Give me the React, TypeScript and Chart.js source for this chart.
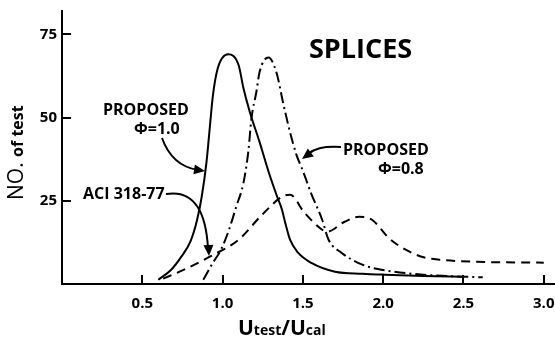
import React, { useEffect, useRef } from "react";
import { Chart, registerables } from "chart.js";

Chart.register(...registerables);

// PROPOSED phi = 1.0 (solid)
const phi10X = [0.6, 0.68, 0.74, 0.8, 0.84, 0.87, 0.9, 0.92, 0.94, 0.97, 1.035, 1.1, 1.13, 1.17, 1.23, 1.29, 1.34, 1.37, 1.39, 1.42, 1.47, 1.55, 1.7, 1.87, 2.01, 2.25, 2.5];
const phi10Y = [1.3, 4.3, 8.0, 12.8, 19.0, 26.2, 36.7, 46.8, 56.7, 64.8, 69, 65.7, 58.8, 51.6, 42.7, 33.2, 26.2, 22.3, 18.4, 13.3, 9.4, 6.4, 3.7, 3.1, 2.8, 2.4, 2.2];

// PROPOSED phi = 0.8 (dash-dot)
const phi08X = [0.88, 0.94, 0.99, 1.04, 1.085, 1.13, 1.16, 1.18, 1.21, 1.23, 1.285, 1.335, 1.38, 1.42, 1.46, 1.5, 1.55, 1.62, 1.66, 1.74, 1.87, 1.99, 2.25, 2.5, 2.62];
const phi08Y = [1.3, 6.4, 10.3, 16.3, 23.2, 30.4, 39.7, 49.8, 57.6, 63.6, 68, 63.6, 53.7, 45.6, 38.8, 34, 27.4, 19.3, 13.3, 9.4, 5.8, 4.3, 2.8, 2.2, 2.0];

// ACI 318-77 (dashed)
const aciX = [0.63, 0.76, 0.92, 1.1, 1.24, 1.37, 1.42, 1.51, 1.62, 1.65, 1.76, 1.85, 1.93, 2.04, 2.14, 2.24, 2.35, 2.56, 3.0];
const aciY = [1.6, 4.3, 8.2, 13.3, 20.5, 26.2, 26.8, 21.4, 16.3, 15.7, 18.7, 20.2, 19.3, 13.6, 10.3, 8.2, 7.3, 6.7, 6.4];

const xTicks = [0.5, 1.0, 1.5, 2.0, 2.5, 3.0];
const yTicks = [25, 50, 75];

const FONT = '"Open Sans", "DejaVu Sans", sans-serif';

const toPts = (xs: number[], ys: number[]) => xs.map((x, i) => ({ x, y: ys[i] }));

function arrowHead(ctx: CanvasRenderingContext2D, fx: number, fy: number, tx: number, ty: number) {
  const ang = Math.atan2(ty - fy, tx - fx);
  const len = 11;
  const w = 5;
  ctx.beginPath();
  ctx.moveTo(tx, ty);
  ctx.lineTo(tx - len * Math.cos(ang) + w * Math.sin(ang), ty - len * Math.sin(ang) - w * Math.cos(ang));
  ctx.lineTo(tx - len * Math.cos(ang) - w * Math.sin(ang), ty - len * Math.sin(ang) + w * Math.cos(ang));
  ctx.closePath();
  ctx.fill();
}

const decorPlugin = {
  id: "decor",
  afterDraw(chart: any) {
    const ctx: CanvasRenderingContext2D = chart.ctx;
    const xs = chart.scales.x;
    const ys = chart.scales.y;
    const bottom = chart.chartArea.bottom;
    const left = chart.chartArea.left;
    ctx.save();
    ctx.strokeStyle = "#000";
    ctx.fillStyle = "#000";
    ctx.lineWidth = 2;
    ctx.setLineDash([]);
    // inward ticks
    xTicks.forEach((v) => {
      const px = Math.round(xs.getPixelForValue(v));
      ctx.beginPath();
      ctx.moveTo(px, bottom);
      ctx.lineTo(px, bottom - 9);
      ctx.stroke();
    });
    yTicks.forEach((v) => {
      const py = Math.round(ys.getPixelForValue(v));
      ctx.beginPath();
      ctx.moveTo(left, py);
      ctx.lineTo(left + 9, py);
      ctx.stroke();
    });

    // annotations
    ctx.textBaseline = "alphabetic";
    ctx.textAlign = "left";
    ctx.font = `bold 27px ${FONT}`;
    ctx.fillText("SPLICES", 309, 58);
    ctx.font = `bold 16px ${FONT}`;
    ctx.fillText("PROPOSED", 103, 115);
    ctx.fillText("\u03A6=1.0", 134, 134);
    ctx.fillText("ACI 318-77", 83, 199);
    ctx.fillText("PROPOSED", 343, 155);
    ctx.fillText("\u03A6=0.8", 378, 174);

    // arrows
    ctx.lineWidth = 2;
    ctx.beginPath();
    ctx.moveTo(162, 138);
    ctx.quadraticCurveTo(172, 166, 198, 170);
    ctx.stroke();
    arrowHead(ctx, 185, 168, 205, 171);

    ctx.beginPath();
    ctx.moveTo(166, 194);
    ctx.bezierCurveTo(196, 189, 206, 215, 208, 248);
    ctx.stroke();
    arrowHead(ctx, 208, 236, 209, 256);

    ctx.beginPath();
    ctx.moveTo(341, 147);
    ctx.bezierCurveTo(322, 146, 314, 149, 308, 154);
    ctx.stroke();
    arrowHead(ctx, 314, 150, 302, 159);

    // y title
    ctx.save();
    ctx.translate(23, 200);
    ctx.rotate(-Math.PI / 2);
    ctx.font = `21px ${FONT}`;
    ctx.fillText("NO.", 0, 0);
    const w1 = ctx.measureText("NO. ").width;
    ctx.font = `bold 16px ${FONT}`;
    ctx.fillText("of test", w1, 0);
    ctx.restore();

    // x title
    let cx = 238;
    const by = 335;
    const parts: [string, string][] = [
      ["U", `bold 21px ${FONT}`],
      ["test", `bold 14px ${FONT}`],
      ["/", `bold 21px ${FONT}`],
      ["U", `bold 21px ${FONT}`],
      ["cal", `bold 14px ${FONT}`],
    ];
    parts.forEach(([t, f]) => {
      ctx.font = f;
      ctx.fillText(t, cx, by);
      cx += ctx.measureText(t).width;
    });
    ctx.restore();
  },
};

export default function App() {
  const ref = useRef<HTMLCanvasElement | null>(null);
  useEffect(() => {
    document.body.style.margin = "0";
    const canvas = ref.current!;
    const chart = new Chart(canvas, {
      type: "line",
      data: {
        datasets: [
          {
            label: "PROPOSED \u03A6=1.0",
            data: toPts(phi10X, phi10Y),
            borderColor: "#000",
            borderWidth: 2,
            pointRadius: 0,
            cubicInterpolationMode: "monotone",
            fill: false,
          },
          {
            label: "PROPOSED \u03A6=0.8",
            data: toPts(phi08X, phi08Y),
            borderColor: "#000",
            borderWidth: 2,
            borderDash: [11, 4, 2, 4],
            pointRadius: 0,
            cubicInterpolationMode: "monotone",
            fill: false,
          },
          {
            label: "ACI 318-77",
            data: toPts(aciX, aciY),
            borderColor: "#000",
            borderWidth: 2,
            borderDash: [9, 6],
            pointRadius: 0,
            cubicInterpolationMode: "monotone",
            fill: false,
          },
        ],
      },
      options: {
        responsive: false,
        animation: false,
        layout: { padding: { top: 11, right: 0, left: 0, bottom: 0 } },
        plugins: { legend: { display: false }, tooltip: { enabled: false }, title: { display: false } },
        scales: {
          x: {
            type: "linear",
            min: 0,
            max: 3.07,
            afterFit: (s: any) => {
              s.height = 57;
              s.paddingLeft = 0;
              s.paddingRight = 0;
            },
            afterBuildTicks: (s: any) => {
              s.ticks = xTicks.map((v) => ({ value: v }));
            },
            ticks: {
              color: "#000",
              font: { family: FONT, size: 15, weight: "bold" },
              padding: 11,
              maxRotation: 0,
              callback: (v: any) => Number(v).toFixed(1),
            },
            grid: { display: true, drawOnChartArea: false, drawTicks: false, color: "rgba(0,0,0,0)" },
            border: { display: true, color: "#000", width: 2 },
          },
          y: {
            type: "linear",
            min: 0,
            max: 82,
            afterFit: (s: any) => {
              s.width = 62;
              s.paddingTop = 0;
              s.paddingBottom = 0;
            },
            afterBuildTicks: (s: any) => {
              s.ticks = yTicks.map((v) => ({ value: v }));
            },
            ticks: {
              color: "#000",
              font: { family: FONT, size: 15, weight: "bold" },
              padding: 5,
            },
            grid: { display: true, drawOnChartArea: false, drawTicks: false, color: "rgba(0,0,0,0)" },
            border: { display: true, color: "#000", width: 2 },
          },
        },
      },
      plugins: [decorPlugin],
    } as any);
    return () => chart.destroy();
  }, []);
  return (
    <div style={{ width: 555, height: 341 }}>
      <canvas ref={ref} width={555} height={341} style={{ display: "block" }} />
    </div>
  );
}
